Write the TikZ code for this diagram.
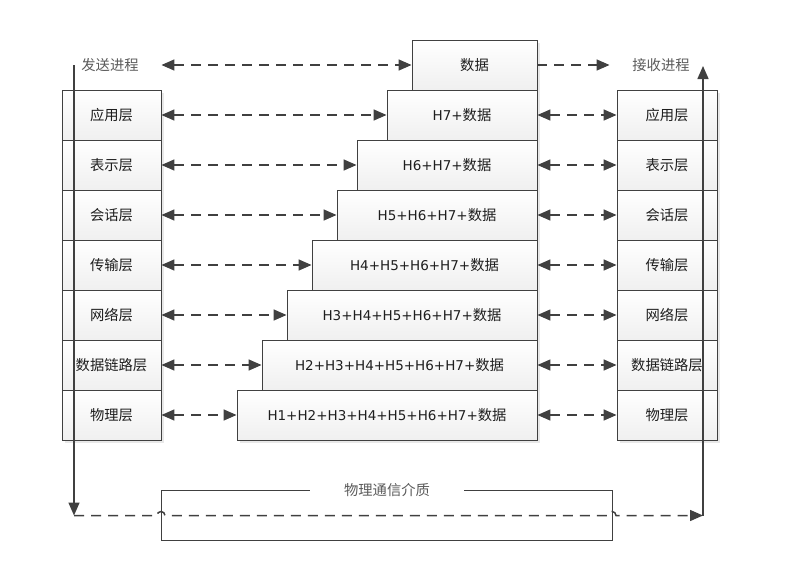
\documentclass[tikz,border=0pt]{standalone}
\usepackage{fontspec}
\setmainfont{DejaVu Sans}
\newfontfamily\cjk[Scale=1.06]{Noto Sans CJK SC}
\usetikzlibrary{positioning,calc,arrows.meta,shadows}
\definecolor{linegray}{HTML}{404040}
\definecolor{labelgray}{HTML}{5A5A5A}
\definecolor{boxtext}{HTML}{1E1E1E}
\tikzstyle{layer} = [draw=linegray, line width=0.9pt, inner sep=0pt, text=boxtext,
  top color=white, bottom color=black!6,
  drop shadow={shadow xshift=3pt, shadow yshift=-3pt, fill=black!9, opacity=1},
  minimum height=50pt, font=\fontsize{13.5}{15}\selectfont]
\tikzstyle{side} = [layer, minimum width=99pt, font=\fontsize{13.5}{15}\selectfont\cjk]
\tikzstyle{caption} = [text=labelgray, font=\fontsize{13.5}{15}\selectfont\cjk]
\tikzstyle{link} = [linegray, line width=1.5pt, dash pattern=on 10pt off 7pt, {Triangle[length=13pt, width=11pt]}-{Triangle[length=13pt, width=11pt]}]
\tikzstyle{flow} = [linegray, line width=1.5pt, -{Triangle[length=13pt, width=11pt]}]

\begin{document}
\begin{tikzpicture}[x=1pt, y=-1pt]
\useasboundingbox (0,0) rectangle (787,560);
\tikzstyle{every node}=[align=center]
	% sender stack
	\node[side] (l1) at (111.5, 115) {应用层};
	\node[side] (l2) at (111.5, 165) {表示层};
	\node[side] (l3) at (111.5, 215) {会话层};
	\node[side] (l4) at (111.5, 265) {传输层};
	\node[side] (l5) at (111.5, 315) {网络层};
	\node[side] (l6) at (111.5, 365) {数据链路层};
	\node[side] (l7) at (111.5, 415) {物理层};
	% receiver stack
	\node[side, minimum width=100pt] (r1) at (667, 115) {应用层};
	\node[side, minimum width=100pt] (r2) at (667, 165) {表示层};
	\node[side, minimum width=100pt] (r3) at (667, 215) {会话层};
	\node[side, minimum width=100pt] (r4) at (667, 265) {传输层};
	\node[side, minimum width=100pt] (r5) at (667, 315) {网络层};
	\node[side, minimum width=100pt] (r6) at (667, 365) {数据链路层};
	\node[side, minimum width=100pt] (r7) at (667, 415) {物理层};
	% encapsulated data
	\node[layer, minimum width=125pt] (m0) at (474.5, 65) {\cjk 数据};
	\node[layer, minimum width=150pt] (m1) at (462, 115) {H7+\cjk 数据};
	\node[layer, minimum width=180pt] (m2) at (447, 165) {H6+H7+\cjk 数据};
	\node[layer, minimum width=200pt] (m3) at (437, 215) {H5+H6+H7+\cjk 数据};
	\node[layer, minimum width=225pt] (m4) at (424.5, 265) {H4+H5+H6+H7+\cjk 数据};
	\node[layer, minimum width=250pt] (m5) at (412, 315) {H3+H4+H5+H6+H7+\cjk 数据};
	\node[layer, minimum width=275pt] (m6) at (399.5, 365) {H2+H3+H4+H5+H6+H7+\cjk 数据};
	\node[layer, minimum width=300pt] (m7) at (387, 415) {H1+H2+H3+H4+H5+H6+H7+\cjk 数据};
	% processes and medium
	\node[caption] (send) at (110, 65) {发送进程};
	\node[caption] (recv) at (661, 65) {接收进程};
	\node[caption, inner xsep=34pt] (medium) at (387, 490) {物理通信介质};

	\draw[linegray, line width=1pt] (medium.west) -- (161, 490) -- (161, 540) -- (612, 540) -- (612, 490) -- (medium.east);

	\draw[link] (l1.east |- m0) -- (m0);
	\draw[flow, dash pattern=on 10pt off 7pt, shorten >=7pt] (m0) -- (r1.west |- m0);
	\draw[link] (l1) -- (m1);
	\draw[link] (l2) -- (m2);
	\draw[link] (l3) -- (m3);
	\draw[link] (l4) -- (m4);
	\draw[link] (l5) -- (m5);
	\draw[link] (l6) -- (m6);
	\draw[link] (l7) -- (m7);
	\draw[link] (m1) -- (r1);
	\draw[link] (m2) -- (r2);
	\draw[link] (m3) -- (r3);
	\draw[link] (m4) -- (r4);
	\draw[link] (m5) -- (r5);
	\draw[link] (m6) -- (r6);
	\draw[link] (m7) -- (r7);

	% path of the data through the medium
	\coordinate (sendT) at (74, 65);
	\coordinate (sendB) at (74, 515.5);
	\coordinate (recvB) at (703, 515.5);
	\coordinate (recvT) at (703, 66);
	\draw[flow] (sendT) -- (sendB);
	\draw[flow, dash pattern=on 10pt off 7pt] (sendB) -- (157, 515.5) arc[start angle=180, end angle=0, radius=4pt]
		-- (608, 515.5) arc[start angle=180, end angle=0, radius=4pt] -- (recvB);
	\draw[flow] (recvB) -- (recvT);
\end{tikzpicture}
\end{document}
